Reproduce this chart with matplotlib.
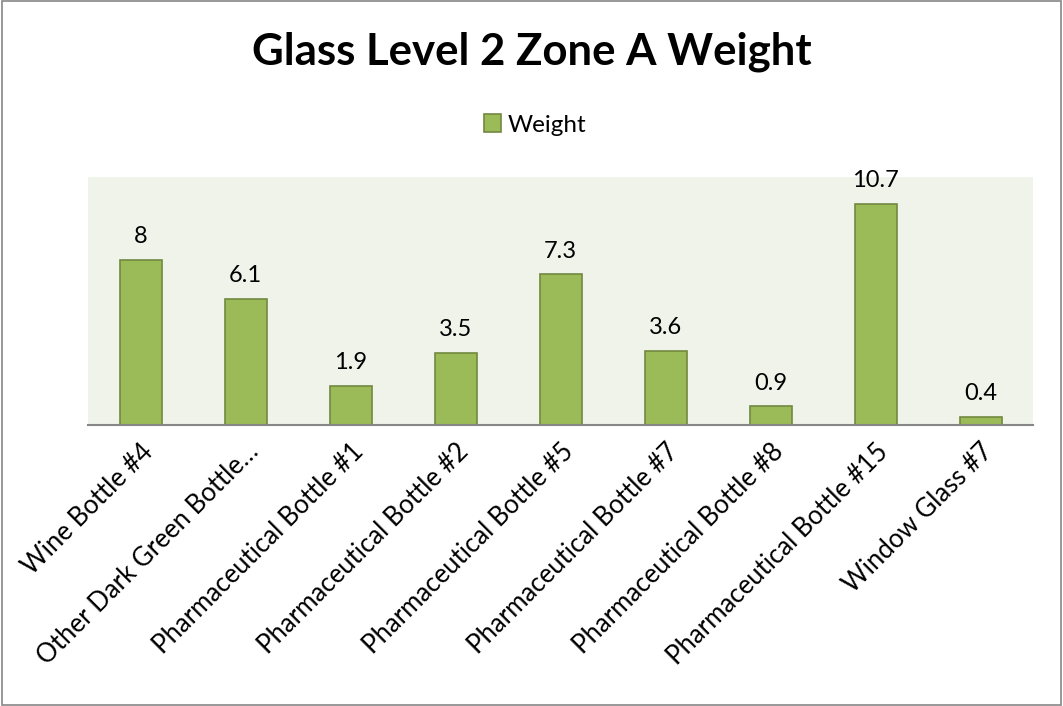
import numpy as np
import matplotlib.pyplot as plt
from matplotlib.patches import Rectangle

categories = ['Wine Bottle #4', 'Other Dark Green Bottle…', 'Pharmaceutical Bottle #1',
              'Pharmaceutical Bottle #2', 'Pharmaceutical Bottle #5', 'Pharmaceutical Bottle #7',
              'Pharmaceutical Bottle #8', 'Pharmaceutical Bottle #15', 'Window Glass #7']
weight = [8, 6.1, 1.9, 3.5, 7.3, 3.6, 0.9, 10.7, 0.4]
labels = ['8', '6.1', '1.9', '3.5', '7.3', '3.6', '0.9', '10.7', '0.4']

plt.rcParams['font.family'] = ['Lato', 'DejaVu Sans']

fig = plt.figure(figsize=(10.63, 7.06), dpi=100)
ax = fig.add_axes([88/1063, 1 - 425/706, 945/1063, 248/706])

x = np.arange(len(categories))
ax.bar(x, weight, 0.4, color='#9BBB59', edgecolor='#71893F', linewidth=1.2,
       label='Weight', zorder=2)

for xi, v, s in zip(x, weight, labels):
    ax.annotate(s, (xi, v), xytext=(0, 9), textcoords='offset points',
                ha='center', va='bottom', fontsize=17)

ax.set_xlim(-0.5, len(categories) - 0.5)
ax.set_ylim(0, 12)
ax.set_facecolor('#EFF3EA')
ax.set_yticks([])
ax.set_xticks(x)
ax.set_xticklabels(categories, rotation=45, ha='right', rotation_mode='anchor', fontsize=18.5)
ax.tick_params(axis='x', length=0, pad=10)

for s in ['top', 'right', 'left']:
    ax.spines[s].set_visible(False)
ax.spines['bottom'].set_color('#868686')
ax.spines['bottom'].set_linewidth(1.5)

fig.text(0.5, 1 - 52/706, 'Glass Level 2 Zone A Weight', ha='center', va='center',
         fontsize=31.5, fontweight='bold')
fig.legend(loc='center', bbox_to_anchor=(535/1063, 1 - 125/706), frameon=False,
           fontsize=17.5, handlelength=0.7, handleheight=0.7, handletextpad=0.3)

fig.patches.append(Rectangle((0.002, 0.002), 0.996, 0.996, transform=fig.transFigure,
                             fill=False, edgecolor='#868686', linewidth=1.2))

fig.savefig('out.png', dpi=100)
